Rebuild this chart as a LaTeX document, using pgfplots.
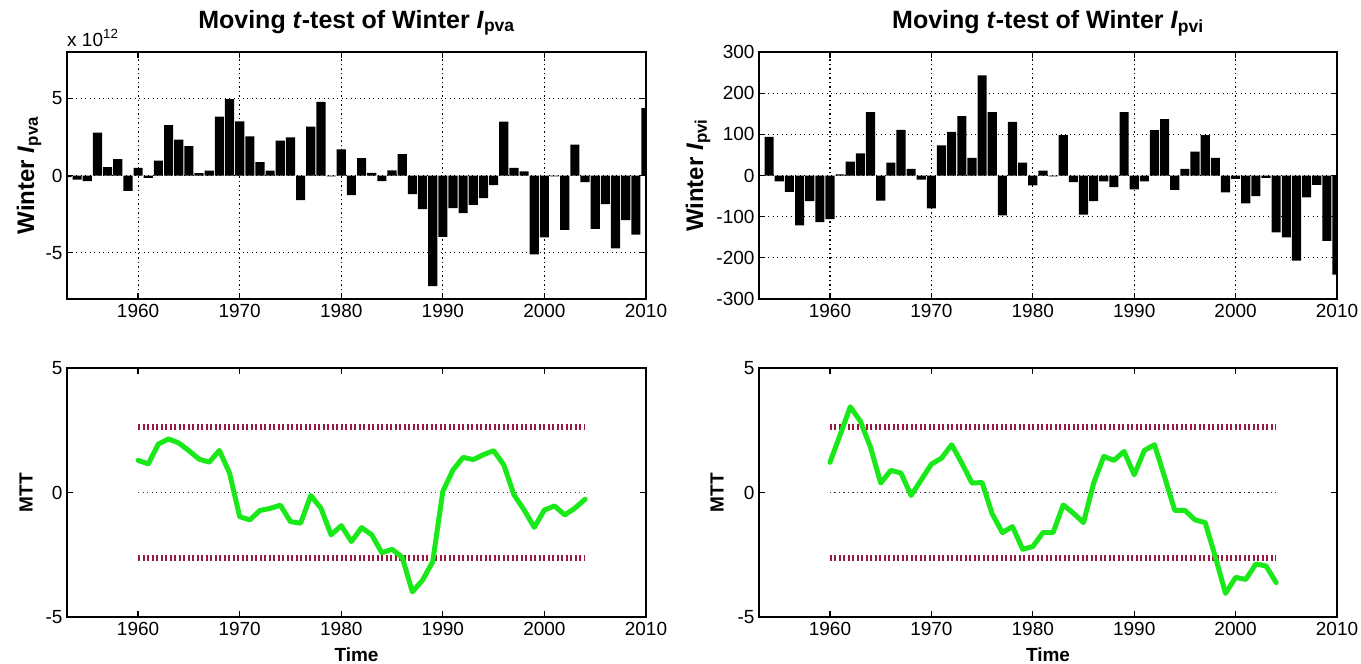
\documentclass[border=0pt]{standalone}
\usepackage{fontspec}
\setmainfont{Liberation Sans}
\usepackage{pgfplots}
\pgfplotsset{compat=1.18}
\usepackage{pgfplotstable}

\pgfplotstableread{
year v
1953 -0.10
1954 -0.26
1955 -0.36
1956 2.77
1957 0.55
1958 1.06
1959 -1.00
1960 0.49
1961 -0.15
1962 0.96
1963 3.26
1964 2.32
1965 1.91
1966 0.15
1967 0.32
1968 3.81
1969 4.94
1970 3.51
1971 2.53
1972 0.87
1973 0.32
1974 2.26
1975 2.47
1976 -1.60
1977 3.17
1978 4.77
1979 -0.05
1980 1.70
1981 -1.27
1982 1.13
1983 0.17
1984 -0.36
1985 0.34
1986 1.38
1987 -1.21
1988 -2.17
1989 -7.17
1990 -3.98
1991 -2.11
1992 -2.43
1993 -1.91
1994 -1.47
1995 -0.62
1996 3.49
1997 0.49
1998 0.26
1999 -5.11
2000 -4.00
2001 -0.05
2002 -3.53
2003 2.00
2004 -0.43
2005 -3.45
2006 -1.85
2007 -4.72
2008 -2.89
2009 -3.83
2010 4.36
}\pva

\pgfplotstableread{
year v
1953 0
1954 94
1955 -14
1956 -40
1957 -121
1958 -62
1959 -113
1960 -106
1961 3
1962 34
1963 54
1964 154
1965 -61
1966 31
1967 111
1968 16
1969 -10
1970 -80
1971 73
1972 106
1973 144
1974 43
1975 243
1976 154
1977 -97
1978 130
1979 31
1980 -24
1981 12
1982 -2
1983 98
1984 -16
1985 -95
1986 -62
1987 -14
1988 -28
1989 154
1990 -34
1991 -14
1992 110
1993 137
1994 -35
1995 16
1996 58
1997 98
1998 43
1999 -41
2000 -8
2001 -68
2002 -50
2003 -6
2004 -138
2005 -150
2006 -207
2007 -53
2008 -23
2009 -159
2010 -241
}\pvi

\pgfplotstableread{
year m
1960 1.29
1961 1.15
1962 1.95
1963 2.15
1964 1.99
1965 1.68
1966 1.34
1967 1.22
1968 1.69
1969 0.78
1970 -0.97
1971 -1.10
1972 -0.72
1973 -0.64
1974 -0.51
1975 -1.17
1976 -1.23
1977 -0.12
1978 -0.63
1979 -1.70
1980 -1.33
1981 -1.97
1982 -1.41
1983 -1.70
1984 -2.42
1985 -2.28
1986 -2.60
1987 -3.99
1988 -3.52
1989 -2.78
1990 0.04
1991 0.91
1992 1.41
1993 1.32
1994 1.52
1995 1.68
1996 1.11
1997 -0.09
1998 -0.70
1999 -1.40
2000 -0.70
2001 -0.54
2002 -0.90
2003 -0.63
2004 -0.27
}\mttpva

\pgfplotstableread{
year m
1960 1.21
1961 2.32
1962 3.44
1963 2.86
1964 1.81
1965 0.38
1966 0.89
1967 0.78
1968 -0.12
1969 0.51
1970 1.14
1971 1.38
1972 1.92
1973 1.18
1974 0.38
1975 0.40
1976 -0.86
1977 -1.61
1978 -1.37
1979 -2.28
1980 -2.17
1981 -1.61
1982 -1.61
1983 -0.50
1984 -0.83
1985 -1.21
1986 0.38
1987 1.45
1988 1.29
1989 1.65
1990 0.71
1991 1.69
1992 1.92
1993 0.62
1994 -0.72
1995 -0.72
1996 -1.10
1997 -1.21
1998 -2.58
1999 -4.05
2000 -3.41
2001 -3.49
2002 -2.87
2003 -2.95
2004 -3.62
}\mttpvi

\definecolor{mgreen}{RGB}{25,232,25}
\definecolor{mred}{RGB}{150,25,65}
\definecolor{mzero}{RGB}{50,50,80}

\pgfplotsset{
  mstyle/.style={
    scale only axis,
    anchor=north west,
    xmin=1953, xmax=2010,
    xtick={1960,1970,1980,1990,2000,2010},
    xticklabels={1960,1970,1980,1990,2000,2010},
    tick align=inside,
    xtick pos=both, ytick pos=both,
    major tick length=6bp,
    axis line style={line width=1.5bp},
    every tick/.style={black, line width=1.3bp},
    ticklabel style={font=\fontsize{19bp}{22bp}\selectfont},
    xticklabel style={yshift=-2bp},
    yticklabel style={xshift=-1bp},
    ylabel style={at={(axis description cs:0,0.5)}, anchor=center},
    title style={at={(axis description cs:0.5,1)}, anchor=base, yshift=18bp,
      font=\fontsize{25bp}{29bp}\selectfont\bfseries},
  },
  topstyle/.style={
    mstyle,
    grid=major,
    major grid style={black, line width=1.1bp, dash pattern=on 1.1bp off 3.4bp},
  },
}

\begin{document}
\begin{tikzpicture}
\path[use as bounding box] (0,0) rectangle (1361bp,-664bp);

% top left
\begin{axis}[topstyle,
  at={(67bp,-52bp)}, width=579bp, height=247bp,
  ymin=-8, ymax=8,
  ytick={-5,0,5}, yticklabels={-5,0,5},
  title={Moving \textit{t}-test of Winter \textit{I}\textsubscript{pva}},
  ylabel={Winter \textit{I}\textsubscript{pva}},
  ylabel style={yshift=38bp, font=\fontsize{24bp}{28bp}\selectfont\bfseries},
  after end axis/.code={
    \node[anchor=base west, inner sep=0pt, font=\fontsize{19bp}{22bp}\selectfont]
      at ([yshift=6bp]rel axis cs:0,1) {x 10\textsuperscript{12}};
  },
]
\addplot[ybar, bar width=0.9, fill=black, draw=none] table[x=year, y=v] {\pva};
\end{axis}

% top right
\begin{axis}[topstyle,
  at={(759bp,-52bp)}, width=578bp, height=247bp,
  ymin=-300, ymax=300,
  ytick={-300,-200,-100,0,100,200,300},
  yticklabels={-300,-200,-100,0,100,200,300},
  title={Moving \textit{t}-test of Winter \textit{I}\textsubscript{pvi}},
  ylabel={Winter \textit{I}\textsubscript{pvi}},
  ylabel style={yshift=61bp, font=\fontsize{24bp}{28bp}\selectfont\bfseries},
]
\addplot[ybar, bar width=0.9, fill=black, draw=none] table[x=year, y=v] {\pvi};
\end{axis}

% bottom left
\begin{axis}[mstyle,
  at={(67bp,-368bp)}, width=579bp, height=249bp,
  ymin=-5, ymax=5,
  ytick={-5,0,5}, yticklabels={-5,0,5},
  ylabel={MTT},
  ylabel style={yshift=41bp, font=\fontsize{19bp}{22bp}\selectfont\bfseries},
  xlabel={Time},
  xlabel style={at={(axis description cs:0.5,0)}, anchor=north, inner sep=0pt, yshift=-31bp,
    font=\fontsize{19bp}{22bp}\selectfont\bfseries},
]
\addplot[mred, line width=6bp, dash pattern=on 2bp off 2.5bp] coordinates {(1960,2.65) (2004,2.65)};
\addplot[mred, line width=6bp, dash pattern=on 2bp off 2.5bp] coordinates {(1960,-2.65) (2004,-2.65)};
\addplot[mzero, line width=1.1bp, dash pattern=on 1.1bp off 3.4bp] coordinates {(1960,0) (2004,0)};
\addplot[mgreen, line width=5bp, line join=round, line cap=round] table[x=year, y=m] {\mttpva};
\end{axis}

% bottom right
\begin{axis}[mstyle,
  at={(759bp,-368bp)}, width=578bp, height=249bp,
  ymin=-5, ymax=5,
  ytick={-5,0,5}, yticklabels={-5,0,5},
  ylabel={MTT},
  ylabel style={yshift=42bp, font=\fontsize{19bp}{22bp}\selectfont\bfseries},
  xlabel={Time},
  xlabel style={at={(axis description cs:0.5,0)}, anchor=north, inner sep=0pt, yshift=-31bp,
    font=\fontsize{19bp}{22bp}\selectfont\bfseries},
]
\addplot[mred, line width=6bp, dash pattern=on 2bp off 2.5bp] coordinates {(1960,2.65) (2004,2.65)};
\addplot[mred, line width=6bp, dash pattern=on 2bp off 2.5bp] coordinates {(1960,-2.65) (2004,-2.65)};
\addplot[mzero, line width=1.1bp, dash pattern=on 1.1bp off 3.4bp] coordinates {(1960,0) (2004,0)};
\addplot[mgreen, line width=5bp, line join=round, line cap=round] table[x=year, y=m] {\mttpvi};
\end{axis}
\end{tikzpicture}
\end{document}
